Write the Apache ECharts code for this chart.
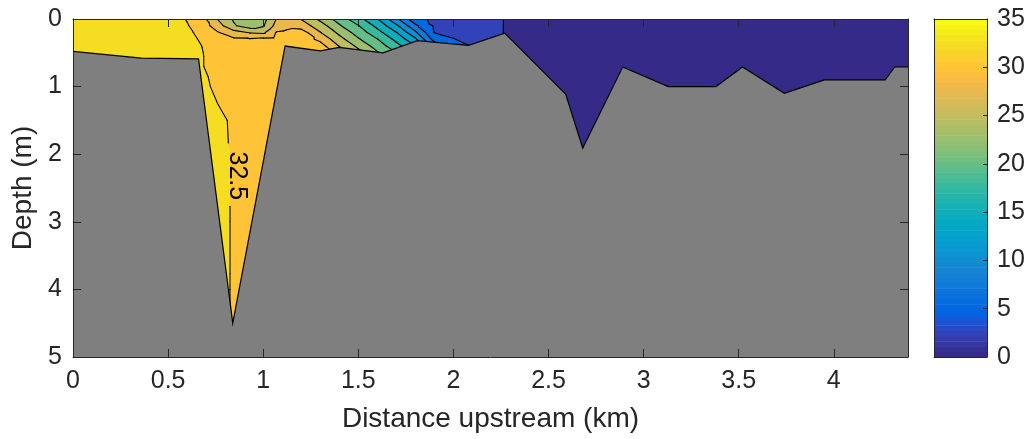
<!DOCTYPE html>
<html>
<head>
<meta charset="utf-8">
<script src="https://cdn.jsdelivr.net/npm/echarts@6/dist/echarts.min.js"></script>
<style>
  html, body { margin: 0; background: #fff; }
  #chart { width: 1029px; height: 439px; }
</style>
</head>
<body>
<div id="chart"></div>
<script>
// stations along the channel (km) and sample depths (m)
var distKm = [0, 0.37, 0.55, 0.66, 0.76, 0.845, 0.93, 1.0, 1.07, 1.12, 1.2, 1.3, 1.4, 1.5, 1.6, 1.7,
  1.8, 1.9, 2.0, 2.1, 2.26, 2.28, 2.59, 2.68, 2.89, 3.13, 3.38, 3.52, 3.74, 3.95, 4.27, 4.39];
var depthM = [0, 0.1, 0.2, 0.3, 0.4, 0.5, 0.7, 1.0, 1.5, 2.0, 3.0, 4.0, 4.6];

// salinity profile per station, surface to bottom (one row per distKm entry)
var salinity = [
  [34, 34, 34, 34, 34, 34, 34, 34, 34, 34, 34, 34, 34],
  [34, 34, 34, 34, 34, 34, 34, 34, 34, 34, 34, 34, 34],
  [33.0, 33.2, 33.4, 33.5, 33.5, 33.5, 33.5, 33.5, 33.5, 33.5, 33.5, 33.5, 33.5],
  [31.6, 31.9, 32.2, 32.45, 32.7, 32.8, 32.8, 33.0, 33.2, 33.3, 33.4, 33.4, 33.4],
  [27.45, 28.7, 30.2, 31.0, 31.5, 31.6, 31.7, 32.2, 32.8, 33.0, 33.0, 33.0, 33.0],
  [24.7, 25.3, 28.5, 30.4, 31.3, 31.5, 31.6, 31.8, 32.3, 32.35, 32.35, 32.35, 32.35],
  [23.5, 23.6, 27.3, 30.3, 31.5, 31.5, 31.5, 31.5, 31.5, 31.5, 31.5, 31.5, 31.5],
  [24.0, 24.7, 27.0, 30.6, 31.2, 31.2, 31.2, 31.2, 31.2, 31.2, 31.2, 31.2, 31.2],
  [27.6, 28.4, 30.2, 30.8, 31.0, 31.0, 31.0, 31.0, 31.0, 31.0, 31.0, 31.0, 31.0],
  [28.5, 29.2, 30.5, 31.0, 31.2, 31.2, 31.2, 31.2, 31.2, 31.2, 31.2, 31.2, 31.2],
  [27.4, 28.8, 31.2, 31.3, 31.3, 31.3, 31.3, 31.3, 31.3, 31.3, 31.3, 31.3, 31.3],
  [24.4, 26.2, 27.6, 29.4, 31.0, 31.2, 31.2, 31.2, 31.2, 31.2, 31.2, 31.2, 31.2],
  [21.4, 22.8, 24.4, 25.9, 27.4, 29.0, 29.0, 29.0, 29.0, 29.0, 29.0, 29.0, 29.0],
  [18.4, 20.1, 21.4, 22.8, 24.4, 25.9, 27.0, 27.0, 27.0, 27.0, 27.0, 27.0, 27.0],
  [15.1, 16.8, 18.4, 20.1, 21.4, 22.8, 24.0, 24.0, 24.0, 24.0, 24.0, 24.0, 24.0],
  [10.5, 13.0, 15.1, 16.8, 18.4, 20.1, 21.0, 21.0, 21.0, 21.0, 21.0, 21.0, 21.0],
  [5.8, 8.0, 10.5, 13.0, 15.1, 16.8, 18.0, 18.0, 18.0, 18.0, 18.0, 18.0, 18.0],
  [4.5, 4.7, 4.95, 6.5, 9.0, 11.0, 12.0, 12.0, 12.0, 12.0, 12.0, 12.0, 12.0],
  [3.9, 4.1, 4.4, 5.1, 6.0, 7.0, 7.0, 7.0, 7.0, 7.0, 7.0, 7.0, 7.0],
  [3.4, 3.6, 3.9, 4.3, 4.9, 5.5, 5.5, 5.5, 5.5, 5.5, 5.5, 5.5, 5.5],
  [2.7, 2.7, 2.7, 2.7, 2.7, 2.7, 2.7, 2.7, 2.7, 2.7, 2.7, 2.7, 2.7],
  [1, 1, 1, 1, 1, 1, 1, 1, 1, 1, 1, 1, 1],
  [1, 1, 1, 1, 1, 1, 1, 1, 1, 1, 1, 1, 1],
  [1, 1, 1, 1, 1, 1, 1, 1, 1, 1, 1, 1, 1],
  [1, 1, 1, 1, 1, 1, 1, 1, 1, 1, 1, 1, 1],
  [1, 1, 1, 1, 1, 1, 1, 1, 1, 1, 1, 1, 1],
  [1, 1, 1, 1, 1, 1, 1, 1, 1, 1, 1, 1, 1],
  [1, 1, 1, 1, 1, 1, 1, 1, 1, 1, 1, 1, 1],
  [1, 1, 1, 1, 1, 1, 1, 1, 1, 1, 1, 1, 1],
  [1, 1, 1, 1, 1, 1, 1, 1, 1, 1, 1, 1, 1],
  [1, 1, 1, 1, 1, 1, 1, 1, 1, 1, 1, 1, 1],
  [1, 1, 1, 1, 1, 1, 1, 1, 1, 1, 1, 1, 1]
];

var fillLevels = [0, 2.5, 5, 7.5, 10, 12.5, 15, 17.5, 20, 22.5, 25, 27.5, 30, 32.5];
var lineLevels = [2.5, 5, 7.5, 10, 12.5, 15, 17.5, 20, 22.5, 25, 27.5, 30, 32.5];

// channel bed
var bedKm = [0, 0.36, 0.66, 0.84, 1.115, 1.30, 1.40, 1.63, 1.81, 2.08, 2.27, 2.59, 2.68, 2.89,
  3.13, 3.38, 3.52, 3.74, 3.95, 4.27, 4.32, 4.39];
var bedDepth = [0.48, 0.58, 0.59, 4.50, 0.40, 0.47, 0.42, 0.50, 0.32, 0.39, 0.21, 1.11, 1.91, 0.71,
  1.00, 1.00, 0.71, 1.10, 0.90, 0.90, 0.71, 0.71];

var xTicks = [0, 0.5, 1, 1.5, 2, 2.5, 3, 3.5, 4];
var cbMax = 35;

// parula colormap, 64 entries
var parula = [
  [0.2081,0.1663,0.5292],[0.2116,0.1898,0.5777],[0.2123,0.2138,0.6270],[0.2081,0.2386,0.6771],
  [0.1959,0.2645,0.7279],[0.1707,0.2919,0.7792],[0.1253,0.3242,0.8303],[0.0591,0.3598,0.8683],
  [0.0117,0.3875,0.8820],[0.0060,0.4086,0.8828],[0.0165,0.4266,0.8786],[0.0329,0.4430,0.8720],
  [0.0498,0.4586,0.8641],[0.0629,0.4737,0.8554],[0.0723,0.4887,0.8467],[0.0779,0.5040,0.8384],
  [0.0793,0.5200,0.8312],[0.0749,0.5375,0.8263],[0.0641,0.5570,0.8240],[0.0488,0.5772,0.8228],
  [0.0343,0.5966,0.8199],[0.0265,0.6137,0.8135],[0.0239,0.6287,0.8038],[0.0231,0.6418,0.7913],
  [0.0228,0.6535,0.7768],[0.0267,0.6642,0.7607],[0.0384,0.6743,0.7436],[0.0590,0.6838,0.7254],
  [0.0843,0.6928,0.7062],[0.1133,0.7015,0.6859],[0.1453,0.7098,0.6646],[0.1801,0.7177,0.6424],
  [0.2178,0.7250,0.6193],[0.2586,0.7317,0.5954],[0.3022,0.7376,0.5712],[0.3482,0.7424,0.5473],
  [0.3953,0.7459,0.5244],[0.4420,0.7481,0.5033],[0.4871,0.7491,0.4840],[0.5300,0.7491,0.4661],
  [0.5709,0.7485,0.4494],[0.6099,0.7473,0.4337],[0.6473,0.7456,0.4188],[0.6834,0.7435,0.4044],
  [0.7184,0.7411,0.3905],[0.7525,0.7384,0.3768],[0.7858,0.7356,0.3633],[0.8185,0.7327,0.3498],
  [0.8507,0.7299,0.3360],[0.8824,0.7274,0.3217],[0.9139,0.7258,0.3063],[0.9450,0.7261,0.2886],
  [0.9739,0.7314,0.2666],[0.9938,0.7455,0.2403],[0.9990,0.7653,0.2164],[0.9955,0.7861,0.1967],
  [0.9880,0.8066,0.1794],[0.9789,0.8271,0.1633],[0.9697,0.8481,0.1475],[0.9626,0.8705,0.1309],
  [0.9589,0.8949,0.1132],[0.9598,0.9218,0.0948],[0.9661,0.9514,0.0755],[0.9763,0.9831,0.0538]
];

function rgb(c) {
  return 'rgb(' + Math.round(c[0] * 255) + ',' + Math.round(c[1] * 255) + ',' + Math.round(c[2] * 255) + ')';
}
function levelColor(v) {
  var k = Math.min(parula.length - 1, Math.floor(v / cbMax * parula.length));
  return rgb(parula[k]);
}

/* keep the part of a polygon [x, d, value] where value >= level */
function clipAbove(poly, level) {
  var out = [];
  for (var i = 0; i < poly.length; i++) {
    var a = poly[i], b = poly[(i + 1) % poly.length];
    var ina = a[2] >= level, inb = b[2] >= level;
    if (ina) out.push(a);
    if (ina !== inb) {
      var t = (level - a[2]) / (b[2] - a[2]);
      out.push([a[0] + t * (b[0] - a[0]), a[1] + t * (b[1] - a[1]), level]);
    }
  }
  return out;
}

/* layered fills (value >= level, drawn bottom up) and contour segments on a triangulated grid */
var bandLayers = fillLevels.map(function (lo) { return { color: levelColor(lo), polys: [] }; });
var isoSegs = [];
for (var i = 0; i < distKm.length - 1; i++) {
  for (var j = 0; j < depthM.length - 1; j++) {
    var p00 = [distKm[i], depthM[j], salinity[i][j]];
    var p10 = [distKm[i + 1], depthM[j], salinity[i + 1][j]];
    var p11 = [distKm[i + 1], depthM[j + 1], salinity[i + 1][j + 1]];
    var p01 = [distKm[i], depthM[j + 1], salinity[i][j + 1]];
    [[p00, p10, p11], [p00, p11, p01]].forEach(function (tri) {
      fillLevels.forEach(function (lo, k) {
        var poly = clipAbove(tri, lo);
        if (poly.length >= 3) bandLayers[k].polys.push(poly);
      });
      lineLevels.forEach(function (L) {
        var pts = [];
        for (var e = 0; e < 3; e++) {
          var a = tri[e], b = tri[(e + 1) % 3];
          if ((a[2] >= L) !== (b[2] >= L)) {
            var t = (L - a[2]) / (b[2] - a[2]);
            pts.push([a[0] + t * (b[0] - a[0]), a[1] + t * (b[1] - a[1])]);
          }
        }
        if (pts.length === 2) {
          var md = (pts[0][1] + pts[1][1]) / 2;
          // gap for the inline label
          if (L === 32.5 && md > 1.85 && md < 2.8) return;
          isoSegs.push(pts);
        }
      });
    });
  }
}

var bedPoly = bedKm.map(function (x, k) { return [x, bedDepth[k]]; });

var chart = echarts.init(document.getElementById('chart'));
var axisColor = '#262626';
var font = '"Liberation Sans", Arial, Helvetica, sans-serif';

function boxAxis(extra) {
  var base = {
    type: 'value', z: 10,
    axisLine: { show: true, onZero: false, lineStyle: { color: axisColor, width: 1 } },
    axisTick: { show: false },
    axisLabel: { show: false },
    splitLine: { show: false }
  };
  return Object.assign(base, extra);
}

var option = {
  animation: false,
  grid: [
    { left: 73, top: 19, width: 835, height: 338 },
    { left: 934, top: 19, width: 53, height: 338 }
  ],
  xAxis: [
    boxAxis({
      gridIndex: 0, min: 0, max: 4.39, position: 'bottom',
      name: 'Distance upstream (km)', nameLocation: 'middle', nameGap: 48,
      nameTextStyle: { fontSize: 28, color: axisColor, fontFamily: font },
      axisTick: { show: true, inside: true, length: 8, customValues: xTicks, lineStyle: { color: axisColor } },
      axisLabel: { show: true, customValues: xTicks, fontSize: 25, color: axisColor, fontFamily: font, margin: 12 }
    }),
    boxAxis({
      gridIndex: 0, min: 0, max: 4.39, position: 'top',
      axisTick: { show: true, inside: true, length: 8, customValues: xTicks, lineStyle: { color: axisColor } }
    }),
    boxAxis({ gridIndex: 1, min: 0, max: 1, position: 'bottom' }),
    boxAxis({ gridIndex: 1, min: 0, max: 1, position: 'top' })
  ],
  yAxis: [
    boxAxis({
      gridIndex: 0, min: 0, max: 5, interval: 1, inverse: true, position: 'left',
      name: 'Depth (m)', nameLocation: 'middle', nameGap: 36,
      nameTextStyle: { fontSize: 28, color: axisColor, fontFamily: font },
      axisTick: { show: true, inside: true, length: 8, lineStyle: { color: axisColor } },
      axisLabel: { show: true, fontSize: 25, color: axisColor, fontFamily: font, margin: 11 }
    }),
    boxAxis({
      gridIndex: 0, min: 0, max: 5, interval: 1, inverse: true, position: 'right',
      axisTick: { show: true, inside: true, length: 8, lineStyle: { color: axisColor } }
    }),
    boxAxis({
      gridIndex: 1, min: 0, max: cbMax, interval: 5, position: 'right',
      axisTick: { show: true, inside: true, length: 4, lineStyle: { color: axisColor } },
      axisLabel: { show: true, fontSize: 25, color: axisColor, fontFamily: font, margin: 10 }
    }),
    boxAxis({ gridIndex: 1, min: 0, max: cbMax, position: 'left' })
  ],
  series: [
    {
      type: 'custom', xAxisIndex: 0, yAxisIndex: 0, clip: true, silent: true, z: 1,
      data: bandLayers.map(function (b, k) { return [0, 0, k]; }),
      encode: { x: 0, y: 1 },
      renderItem: function (params, api) {
        var layer = bandLayers[params.dataIndex];
        var d = '';
        layer.polys.forEach(function (poly) {
          poly.forEach(function (q, n) {
            var p = api.coord([q[0], q[1]]);
            d += (n === 0 ? 'M' : 'L') + p[0].toFixed(2) + ' ' + p[1].toFixed(2);
          });
          d += 'Z';
        });
        return { type: 'path', shape: { pathData: d }, style: { fill: layer.color } };
      }
    },
    {
      type: 'custom', xAxisIndex: 0, yAxisIndex: 0, clip: true, silent: true, z: 2,
      data: isoSegs.map(function (s, k) { return [s[0][0], s[0][1], k]; }),
      encode: { x: 0, y: 1 },
      renderItem: function (params, api) {
        var s = isoSegs[params.dataIndex];
        var a = api.coord(s[0]), b = api.coord(s[1]);
        return {
          type: 'line',
          shape: { x1: a[0], y1: a[1], x2: b[0], y2: b[1] },
          style: { stroke: '#000', lineWidth: 1.1, lineCap: 'round' }
        };
      }
    },
    {
      type: 'custom', xAxisIndex: 0, yAxisIndex: 0, clip: true, silent: true, z: 3,
      data: [[0, 5]],
      encode: { x: 0, y: 1 },
      renderItem: function (params, api) {
        var top = bedPoly.map(function (q) { return api.coord(q); });
        var fillPts = top.concat([api.coord([4.39, 5]), api.coord([0, 5])]);
        return {
          type: 'group',
          children: [
            { type: 'polygon', shape: { points: fillPts }, style: { fill: '#7f7f7f' } },
            { type: 'polyline', shape: { points: top }, style: { stroke: '#000', lineWidth: 1.2, fill: null } }
          ]
        };
      }
    },
    {
      type: 'custom', xAxisIndex: 0, yAxisIndex: 0, silent: true, z: 4,
      data: [[0.864, 2.32]],
      encode: { x: 0, y: 1 },
      renderItem: function (params, api) {
        var p = api.coord([api.value(0), api.value(1)]);
        return {
          type: 'text', x: p[0], y: p[1], rotation: -Math.PI / 2,
          style: { text: '32.5', fontSize: 25, fontFamily: font, fill: '#000', align: 'center', verticalAlign: 'middle' }
        };
      }
    },
    {
      type: 'custom', xAxisIndex: 2, yAxisIndex: 2, silent: true, z: 1,
      data: parula.map(function (c, k) { return [0, k * cbMax / parula.length]; }),
      encode: { x: 0, y: 1 },
      renderItem: function (params, api) {
        var k = params.dataIndex;
        var a = api.coord([0, (k + 1) * cbMax / parula.length]);
        var b = api.coord([1, k * cbMax / parula.length]);
        return {
          type: 'rect',
          shape: { x: a[0], y: a[1], width: b[0] - a[0], height: b[1] - a[1] + 0.5 },
          style: { fill: rgb(parula[k]) }
        };
      }
    }
  ]
};
chart.setOption(option);
</script>
</body>
</html>
